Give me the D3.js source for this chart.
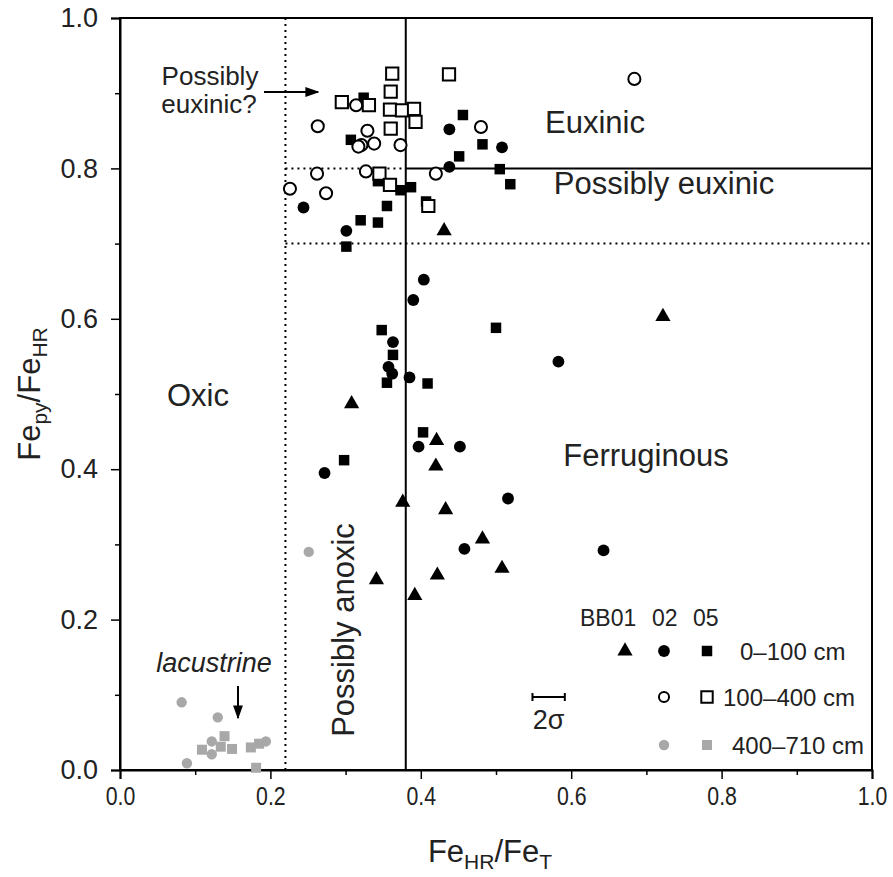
<!DOCTYPE html>
<html>
<head>
<meta charset="utf-8">
<script src="https://cdn.jsdelivr.net/npm/d3@7"></script>
<style>
  body { margin: 0; background: #fff; }
  svg { font-family: "Liberation Sans", Arial, sans-serif; }
</style>
</head>
<body>
<div id="grafica"></div>
<script>
// Fe speciation data: [FeHR/FeT, Fepy/FeHR]
var bb01_0_100 = [[0.431,0.719],[0.308,0.489],[0.421,0.440],[0.420,0.406],[0.376,0.358],[0.433,0.348],
  [0.482,0.309],[0.508,0.270],[0.422,0.261],[0.341,0.255],[0.392,0.234],[0.722,0.605]];
var bb02_0_100 = [[0.438,0.852],[0.508,0.828],[0.438,0.802],[0.244,0.748],[0.301,0.717],[0.404,0.652],
  [0.390,0.625],[0.363,0.569],[0.357,0.536],[0.362,0.527],[0.385,0.522],[0.583,0.543],[0.397,0.430],
  [0.452,0.430],[0.272,0.395],[0.516,0.361],[0.458,0.294],[0.643,0.292]];
var bb02_100_400 = [[0.263,0.856],[0.314,0.884],[0.329,0.850],[0.321,0.831],[0.338,0.833],[0.317,0.829],
  [0.373,0.831],[0.480,0.855],[0.262,0.793],[0.327,0.796],[0.420,0.793],[0.226,0.773],[0.274,0.767],[0.684,0.919]];
var bb05_0_100 = [[0.324,0.894],[0.456,0.871],[0.307,0.838],[0.482,0.832],[0.451,0.816],[0.505,0.799],
  [0.519,0.779],[0.343,0.783],[0.373,0.771],[0.387,0.775],[0.407,0.756],[0.355,0.750],[0.320,0.731],
  [0.343,0.728],[0.301,0.696],[0.348,0.585],[0.500,0.588],[0.363,0.552],[0.355,0.515],[0.409,0.514],
  [0.403,0.449],[0.298,0.412]];
var bb05_100_400 = [[0.362,0.926],[0.4375,0.925],[0.360,0.902],[0.295,0.888],[0.331,0.884],[0.359,0.878],
  [0.375,0.877],[0.391,0.879],[0.393,0.862],[0.360,0.853],[0.345,0.793],[0.359,0.778],[0.410,0.750]];
var bb02_400_710 = [[0.082,0.090],[0.130,0.070],[0.089,0.009],[0.122,0.038],[0.122,0.021],[0.194,0.038],[0.251,0.290]];
var bb05_400_710 = [[0.109,0.027],[0.139,0.045],[0.134,0.031],[0.149,0.028],[0.174,0.030],[0.185,0.035],[0.181,0.003]];

var tickMayores = [0, 0.2, 0.4, 0.6, 0.8, 1.0];
var tickMenores = [0.1, 0.3, 0.5, 0.7, 0.9];

// umbrales de las zonas redox
var umbralOxico = 0.22, umbralAnoxico = 0.38, umbralPosEux = 0.7, umbralEux = 0.8;
var errorDosSigma = 0.043;

var ancho = 893, alto = 877;
var margen = {top: 18, right: 21, bottom: 107, left: 120};
var gris = "#a8a8a8";

var svg = d3.select("#grafica").append("svg")
    .attr("width", ancho)
    .attr("height", alto);

var x = d3.scaleLinear().domain([0, 1]).range([margen.left, ancho - margen.right]);
var y = d3.scaleLinear().domain([0, 1]).range([alto - margen.bottom, margen.top]);

// marco
svg.append("rect")
    .attr("x", x(0)).attr("y", y(1))
    .attr("width", x(1) - x(0)).attr("height", y(0) - y(1))
    .attr("fill", "none").attr("stroke", "#000").attr("stroke-width", 2);

// ejes
var ejeX = svg.append("g")
    .attr("transform", "translate(0," + y(0) + ")")
    .call(d3.axisBottom(x).tickValues(tickMayores).tickFormat(d3.format(".1f")).tickSize(9).tickPadding(8));
svg.append("g")
    .attr("transform", "translate(0," + y(0) + ")")
    .call(d3.axisBottom(x).tickValues(tickMenores).tickFormat("").tickSize(5))
    .select(".domain").remove();
var ejeY = svg.append("g")
    .attr("transform", "translate(" + x(0) + ",0)")
    .call(d3.axisLeft(y).tickValues(tickMayores).tickFormat(d3.format(".1f")).tickSize(9).tickPadding(13));
svg.append("g")
    .attr("transform", "translate(" + x(0) + ",0)")
    .call(d3.axisLeft(y).tickValues(tickMenores).tickFormat("").tickSize(5))
    .select(".domain").remove();

svg.selectAll(".domain").attr("stroke-width", 2);
svg.selectAll(".tick line").attr("stroke-width", 1.5);
// las etiquetas del eje x son estrechas en el original
ejeX.selectAll("text").style("font-size", "26px").attr("transform", "scale(0.82,1)").attr("fill", "#222");
ejeY.selectAll("text").style("font-size", "27px").attr("fill", "#222");

// lineas de zonas
function linea(x1, y1, x2, y2, punteada) {
    svg.append("line")
        .attr("x1", x(x1)).attr("y1", y(y1))
        .attr("x2", x(x2)).attr("y2", y(y2))
        .attr("stroke", "#000")
        .attr("stroke-width", 2)
        .attr("stroke-dasharray", punteada ? "2,4" : null);
}
linea(umbralOxico, 0, umbralOxico, 1, true);
linea(umbralAnoxico, 0, umbralAnoxico, 1, false);
linea(umbralAnoxico, umbralEux, 1, umbralEux, false);
linea(umbralOxico, umbralEux, umbralAnoxico, umbralEux, true);
linea(umbralOxico, umbralPosEux, 1, umbralPosEux, true);

// etiquetas de zonas
function etiqueta(tx, ty, texto, tam) {
    return svg.append("text")
        .attr("x", tx).attr("y", ty)
        .attr("text-anchor", "middle")
        .style("font-size", tam + "px")
        .attr("fill", "#222")
        .text(texto);
}
etiqueta(595, 133, "Euxinic", 31);
etiqueta(664, 194, "Possibly euxinic", 31);
etiqueta(198, 406, "Oxic", 31);
etiqueta(646, 466, "Ferruginous", 31);
etiqueta(0, 0, "Possibly anoxic", 31)
    .attr("transform", "translate(354,630) rotate(-90)");
etiqueta(210, 85, "Possibly", 26);
etiqueta(209, 113, "euxinic?", 26);
etiqueta(214, 672, "lacustrine", 27).style("font-style", "italic");

// flechas
svg.append("defs").append("marker")
    .attr("id", "punta")
    .attr("viewBox", "0 0 10 10")
    .attr("refX", 9).attr("refY", 5)
    .attr("markerWidth", 7).attr("markerHeight", 7)
    .attr("orient", "auto-start-reverse")
    .append("path").attr("d", "M0,1.5 L10,5 L0,8.5 z").attr("fill", "#000");
svg.append("line").attr("x1", 264).attr("y1", 92).attr("x2", 318).attr("y2", 92)
    .attr("stroke", "#000").attr("stroke-width", 2).attr("marker-end", "url(#punta)");
svg.append("line").attr("x1", 238).attr("y1", 686).attr("x2", 238).attr("y2", 718)
    .attr("stroke", "#000").attr("stroke-width", 2).attr("marker-end", "url(#punta)");

// simbolos
var tri = d3.symbol().type(d3.symbolTriangle).size(100);
var cir = d3.symbol().type(d3.symbolCircle).size(110);
var cua = d3.symbol().type(d3.symbolSquare).size(110);
var cuaAbierto = d3.symbol().type(d3.symbolSquare).size(150);
var cirAbierto = d3.symbol().type(d3.symbolCircle).size(115);
var cirGris = d3.symbol().type(d3.symbolCircle).size(85);
var cuaGris = d3.symbol().type(d3.symbolSquare).size(100);

function serie(datos, simbolo, relleno, borde, dy) {
    svg.append("g").selectAll("path")
        .data(datos)
        .enter().append("path")
        .attr("transform", function (d) { return "translate(" + x(d[0]) + "," + (y(d[1]) + (dy || 0)) + ")"; })
        .attr("d", simbolo)
        .attr("fill", relleno)
        .attr("stroke", borde)
        .attr("stroke-width", borde === "none" ? 0 : 2);
}
serie(bb05_400_710, cuaGris, gris, "none");
serie(bb02_400_710, cirGris, gris, "none");
serie(bb05_0_100, cua, "#000", "none");
serie(bb05_100_400, cuaAbierto, "#fff", "#000");
serie(bb02_100_400, cirAbierto, "#fff", "#000");
serie(bb02_0_100, cir, "#000", "none");
serie(bb01_0_100, tri, "#000", "none", 1.5);

// leyenda
var leyenda = svg.append("g").style("font-size", "23px").attr("fill", "#222");
leyenda.append("text").attr("x", 580).attr("y", 626).text("BB01");
leyenda.append("text").attr("x", 652).attr("y", 626).text("02");
leyenda.append("text").attr("x", 693).attr("y", 626).text("05");

var filasLeyenda = [
    {y: 651, etiqueta: "0\u2013100 cm", xt: 740, s: [[625, tri, "#000", "none"], [664, cir, "#000", "none"], [707, cua, "#000", "none"]]},
    {y: 697, etiqueta: "100\u2013400 cm", xt: 723, s: [[664, d3.symbol().type(d3.symbolCircle).size(80), "#fff", "#000"], [707, d3.symbol().type(d3.symbolSquare).size(130), "#fff", "#000"]]},
    {y: 745, etiqueta: "400\u2013710 cm", xt: 732, s: [[664, cirGris, gris, "none"], [707, cuaGris, gris, "none"]]}
];
filasLeyenda.forEach(function (f) {
    f.s.forEach(function (s) {
        leyenda.append("path")
            .attr("transform", "translate(" + s[0] + "," + f.y + ")")
            .attr("d", s[1])
            .attr("fill", s[2])
            .attr("stroke", s[3])
            .attr("stroke-width", s[3] === "none" ? 0 : 2);
    });
    leyenda.append("text").attr("x", f.xt).attr("y", f.y + 9).style("font-size", "24px").text(f.etiqueta);
});

// barra de error 2 sigma
var cx2s = x(0.57), cy2s = 697;
var medio = (x(errorDosSigma) - x(0)) / 2;
var g2s = svg.append("g").attr("stroke", "#000").attr("stroke-width", 2);
g2s.append("line").attr("x1", cx2s - medio).attr("x2", cx2s + medio).attr("y1", cy2s).attr("y2", cy2s);
g2s.append("line").attr("x1", cx2s - medio).attr("x2", cx2s - medio).attr("y1", cy2s - 4).attr("y2", cy2s + 4);
g2s.append("line").attr("x1", cx2s + medio).attr("x2", cx2s + medio).attr("y1", cy2s - 4).attr("y2", cy2s + 4);
etiqueta(cx2s, 729, "2\u03c3", 27);

// titulos de ejes
var tituloX = svg.append("text")
    .attr("x", 490).attr("y", 862)
    .attr("text-anchor", "middle")
    .style("font-size", "31px").attr("fill", "#222");
tituloX.append("tspan").text("Fe");
tituloX.append("tspan").attr("dy", 7).style("font-size", "21px").text("HR");
tituloX.append("tspan").attr("dy", -7).text("/Fe");
tituloX.append("tspan").attr("dy", 7).style("font-size", "21px").text("T");

var tituloY = svg.append("text")
    .attr("transform", "translate(40,394) rotate(-90)")
    .attr("text-anchor", "middle")
    .style("font-size", "31px").attr("fill", "#222");
tituloY.append("tspan").text("Fe");
tituloY.append("tspan").attr("dy", 7).style("font-size", "21px").text("py");
tituloY.append("tspan").attr("dy", -7).text("/Fe");
tituloY.append("tspan").attr("dy", 7).style("font-size", "21px").text("HR");
</script>
</body>
</html>
